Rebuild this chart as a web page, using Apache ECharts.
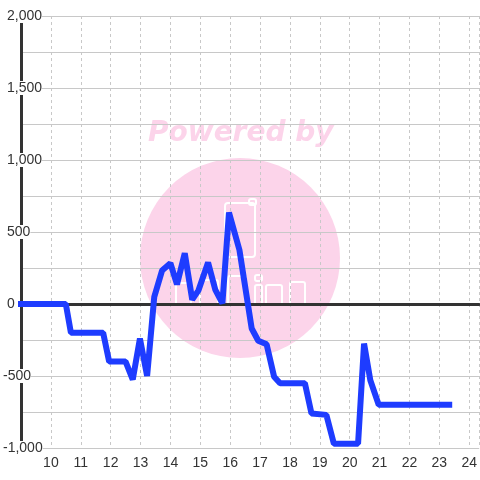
<!DOCTYPE html>
<html>
<head>
<meta charset="utf-8">
<script src="https://cdn.jsdelivr.net/npm/echarts@6/dist/echarts.min.js"></script>
<style>html,body{margin:0;padding:0;background:#fff}#c{width:480px;height:480px}</style>
</head>
<body>
<div id="c"></div>
<script>
// time of day (hours)
var hours = [9, 10.5, 10.67, 11.75, 11.95, 12.5, 12.74, 12.98, 13.22, 13.46, 13.72, 14.0, 14.22, 14.48, 14.73, 14.94, 15.26, 15.5, 15.74, 15.96, 16.31, 16.72, 16.94, 17.22, 17.47, 17.67, 18.5, 18.72, 19.22, 19.47, 20.28, 20.48, 20.69, 20.97, 23.33];
var values = [0, 0, -200, -200, -400, -400, -525, -240, -500, 50, 232, 283, 136, 352, 30, 95, 288, 100, 5, 635, 375, -170, -255, -280, -505, -550, -550, -760, -770, -970, -970, -275, -530, -700, -700];
var xMin = 9, xMax = 24.333;
var yMin = -1000, yMax = 2000, yStep = 500;

var lineData = hours.map(function (h, i) { return [h, values[i]]; });

var chart = echarts.init(document.getElementById('c'), null, {renderer: 'canvas'});
var pink = '#fcd4ea';
var font = '"Liberation Sans", Arial, sans-serif';
chart.setOption({
  backgroundColor: '#fff',
  animation: false,
  grid: {left: 20, right: 0, top: 16, bottom: 32, containLabel: false},
  graphic: [
    {type: 'circle', z: -10, shape: {cx: 240, cy: 258, r: 100}, style: {fill: pink}},
    {type: 'text', z: -10, style: {text: 'Powered by', x: 148, y: 134, fill: pink,
      font: 'italic bold 28px "DejaVu Sans"', textVerticalAlign: 'middle'}},
    {type: 'rect', z: -9, shape: {x: 225, y: 203, width: 30, height: 54, r: 3}, style: {fill: null, stroke: '#fff', lineWidth: 2}},
    {type: 'rect', z: -9, shape: {x: 249, y: 199, width: 7, height: 6, r: 2}, style: {fill: null, stroke: '#fff', lineWidth: 2}},
    {type: 'rect', z: -9, shape: {x: 176, y: 283, width: 15, height: 22, r: 2}, style: {fill: null, stroke: '#fff', lineWidth: 2}},
    {type: 'rect', z: -9, shape: {x: 200, y: 280, width: 18, height: 25, r: 2}, style: {fill: null, stroke: '#fff', lineWidth: 2}},
    {type: 'rect', z: -9, shape: {x: 228, y: 276, width: 18, height: 29, r: 2}, style: {fill: null, stroke: '#fff', lineWidth: 2}},
    {type: 'rect', z: -9, shape: {x: 255, y: 285, width: 7, height: 20, r: 2}, style: {fill: null, stroke: '#fff', lineWidth: 2}},
    {type: 'rect', z: -9, shape: {x: 255, y: 275, width: 7, height: 6, r: 2}, style: {fill: null, stroke: '#fff', lineWidth: 2}},
    {type: 'rect', z: -9, shape: {x: 266, y: 285, width: 16, height: 20, r: 2}, style: {fill: null, stroke: '#fff', lineWidth: 2}},
    {type: 'rect', z: -9, shape: {x: 290, y: 282, width: 15, height: 23, r: 2}, style: {fill: null, stroke: '#fff', lineWidth: 2}}
  ],
  xAxis: [{
    type: 'value', min: xMin, max: xMax, interval: 1,
    axisLine: {show: false, onZero: false},
    axisTick: {show: false},
    axisLabel: {show: true, margin: 8, color: '#333', fontSize: 14, fontFamily: font,
      showMinLabel: false, showMaxLabel: false},
    splitLine: {show: true, lineStyle: {color: '#c8c8c8', width: 1, type: [3, 3]}}
  }, {
    type: 'value', min: xMin, max: xMax, interval: 1, position: 'bottom',
    axisLine: {show: true, onZero: true, lineStyle: {color: '#333', width: 3}},
    axisTick: {show: false}, axisLabel: {show: false}, splitLine: {show: false}
  }],
  yAxis: {
    type: 'value', min: yMin, max: yMax, interval: yStep,
    axisLine: {show: true, onZero: false, lineStyle: {color: '#333', width: 3}},
    axisTick: {show: false},
    minorTick: {show: false, splitNumber: 2},
    minorSplitLine: {show: true, lineStyle: {color: '#c8c8c8', width: 1}},
    splitLine: {show: true, lineStyle: {color: '#c8c8c8', width: 1}},
    axisLabel: {
      show: true, align: 'left', margin: 18, color: '#333', fontSize: 14,
      fontFamily: font,
      backgroundColor: '#fff',
      formatter: function (v) {
        var s = echarts.format.addCommas(v);
        return v < 0 ? '{n|' + s + '}' : '{p|' + s + '}';
      },
      rich: {
        n: {fontSize: 14, color: '#333', fontFamily: font},
        p: {fontSize: 14, color: '#333', fontFamily: font, padding: [0, 0, 0, 4]}
      }
    }
  },
  series: [{
    type: 'line', xAxisIndex: 0, data: lineData, showSymbol: false, symbol: 'none',
    lineStyle: {color: '#1e3cff', width: 6, cap: 'square', join: 'bevel'},
    z: 3
  }]
});
</script>
</body>
</html>
